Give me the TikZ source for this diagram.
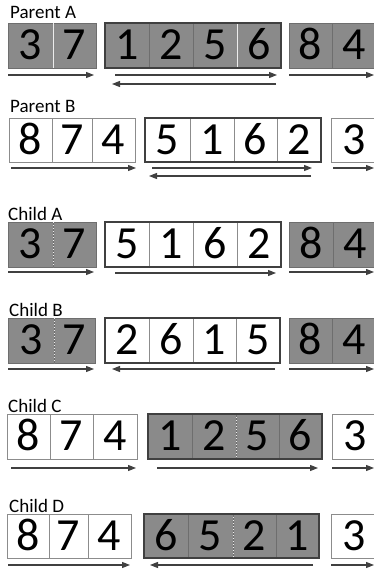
\documentclass[tikz,border=0pt]{standalone}
\usepackage{fontspec}
\setmainfont{Carlito}
\usetikzlibrary{arrows.meta}
\definecolor{cellgray}{HTML}{8A8A8A}
\definecolor{gborder}{HTML}{6E6E6E}
\definecolor{wborder}{HTML}{8C8C8C}
\definecolor{darkline}{HTML}{404040}
\newcommand{\mkcell}[7]{\node[cellbox,#6,minimum width={#3-#2},minimum height={#5-#4},anchor=north west] (#1) at (#2,#4) {#7};}
\tikzset{
  cellbox/.style={inner sep=0pt,outer sep=0pt,text height=28pt,text depth=0pt,font=\fontsize{46}{46}\selectfont,line width=0.8pt},
  gc/.style={fill=cellgray,draw=gborder},
  wc/.style={fill=white,draw=wborder},
  grp/.style={draw=darkline,line width=2pt},
  lbl/.style={anchor=base west,inner sep=0pt,font=\fontsize{19}{20}\selectfont},
  arr/.style={draw=darkline,line width=1.1pt,-{Triangle[length=8pt,width=6pt]}},
  gap/.style={draw=white!85!gray,line width=1pt}
}
\begin{document}
\begin{tikzpicture}[x=1pt,y=-1pt]
\useasboundingbox (0,0) rectangle (374,572);
\clip (0,0) rectangle (374,572);
% ---------------- Parent A
\node[lbl] (la) at (10,19) {Parent A};
\mkcell{pal1}{8}{53}{23}{68}{gc}{3}
\mkcell{pal2}{53}{96}{23}{68}{gc}{7}
\mkcell{pam1}{105}{149}{23}{68}{gc}{1}
\mkcell{pam2}{149}{193}{23}{68}{gc}{2}
\mkcell{pam3}{193}{237}{23}{68}{gc}{5}
\mkcell{pam4}{237}{281}{23}{68}{gc}{6}
\mkcell{par1}{289}{332}{23}{68}{gc}{8}
\mkcell{par2}{332}{376}{23}{68}{gc}{4}
\draw[gap] (pal1.north east) -- (pal1.south east);
\draw[gap] (pam3.north east) -- (pam3.south east);
\draw[grp] (pam1.north west) rectangle (pam4.south east);
\coordinate (a1s) at (8,75);   \coordinate (a1e) at (94,75);
\coordinate (a2s) at (115,75); \coordinate (a2e) at (277,75);
\coordinate (a3s) at (276,84); \coordinate (a3e) at (112,84);
\coordinate (a4s) at (289,75); \coordinate (a4e) at (374,75);
\draw[arr] (a1s) -- (a1e);
\draw[arr] (a2s) -- (a2e);
\draw[arr] (a3s) -- (a3e);
\draw[arr] (a4s) -- (a4e);
% ---------------- Parent B
\node[lbl] (lb) at (10,113) {Parent B};
\mkcell{pbl1}{9}{52}{118}{162}{wc}{8}
\mkcell{pbl2}{52}{92}{118}{162}{wc}{7}
\mkcell{pbl3}{92}{135}{118}{162}{wc}{4}
\mkcell{pbm1}{145}{190}{118}{162}{wc}{5}
\mkcell{pbm2}{190}{234}{118}{162}{wc}{1}
\mkcell{pbm3}{234}{277}{118}{162}{wc}{6}
\mkcell{pbm4}{277}{321}{118}{162}{wc}{2}
\mkcell{pbr1}{331}{378}{118}{162}{wc}{3}
\draw[grp] (pbm1.north west) rectangle (pbm4.south east);
\coordinate (b1s) at (11,168);  \coordinate (b1e) at (136,168);
\coordinate (b2s) at (152,168); \coordinate (b2e) at (312,168);
\coordinate (b3s) at (311,176); \coordinate (b3e) at (149,176);
\coordinate (b4s) at (333,168); \coordinate (b4e) at (374,168);
\draw[arr] (b1s) -- (b1e);
\draw[arr] (b2s) -- (b2e);
\draw[arr] (b3s) -- (b3e);
\draw[arr] (b4s) -- (b4e);
% ---------------- Child A
\node[lbl] (lca) at (8,220) {Child A};
\mkcell{cal1}{8}{53}{222}{267}{gc}{3}
\mkcell{cal2}{53}{96}{222}{267}{gc}{7}
\mkcell{cam1}{105}{149}{222}{267}{wc}{5}
\mkcell{cam2}{149}{193}{222}{267}{wc}{1}
\mkcell{cam3}{193}{237}{222}{267}{wc}{6}
\mkcell{cam4}{237}{281}{222}{267}{wc}{2}
\mkcell{car1}{289}{333}{222}{267}{gc}{8}
\mkcell{car2}{333}{377}{222}{267}{gc}{4}
\draw[gap,dotted] (cal1.north east) -- (cal1.south east);
\draw[grp] (cam1.north west) rectangle (cam4.south east);
\coordinate (c1s) at (8,272);   \coordinate (c1e) at (94,272);
\coordinate (c2s) at (115,273); \coordinate (c2e) at (276,273);
\coordinate (c4s) at (289,272); \coordinate (c4e) at (374,272);
\draw[arr] (c1s) -- (c1e);
\draw[arr] (c2s) -- (c2e);
\draw[arr] (c4s) -- (c4e);
% ---------------- Child B
\node[lbl] (lcb) at (9,316) {Child B};
\mkcell{cbl1}{8}{54}{318}{363}{gc}{3}
\mkcell{cbl2}{54}{95}{318}{363}{gc}{7}
\mkcell{cbm1}{105}{149}{318}{363}{wc}{2}
\mkcell{cbm2}{149}{193}{318}{363}{wc}{6}
\mkcell{cbm3}{193}{236}{318}{363}{wc}{1}
\mkcell{cbm4}{236}{280}{318}{363}{wc}{5}
\mkcell{cbr1}{289}{332}{318}{363}{gc}{8}
\mkcell{cbr2}{332}{376}{318}{363}{gc}{4}
\draw[gap,dotted] (cbl1.north east) -- (cbl1.south east);
\draw[grp] (cbm1.north west) rectangle (cbm4.south east);
\coordinate (d1s) at (8,369);   \coordinate (d1e) at (94,369);
\coordinate (d2s) at (275,369); \coordinate (d2e) at (112,369);
\coordinate (d4s) at (289,369); \coordinate (d4e) at (374,369);
\draw[arr] (d1s) -- (d1e);
\draw[arr] (d2s) -- (d2e);
\draw[arr] (d4s) -- (d4e);
% ---------------- Child C
\node[lbl] (lcc) at (8,412) {Child C};
\mkcell{ccl1}{7}{50}{414}{459}{wc}{8}
\mkcell{ccl2}{50}{93}{414}{459}{wc}{7}
\mkcell{ccl3}{93}{137}{414}{459}{wc}{4}
\mkcell{ccm1}{148}{192}{414}{459}{gc}{1}
\mkcell{ccm2}{192}{236}{414}{459}{gc}{2}
\mkcell{ccm3}{236}{279}{414}{459}{gc}{5}
\mkcell{ccm4}{279}{322}{414}{459}{gc}{6}
\mkcell{ccr1}{332}{379}{414}{459}{wc}{3}
\draw[gap,dotted] (ccm2.north east) -- (ccm2.south east);
\draw[grp] (ccm1.north west) rectangle (ccm4.south east);
\coordinate (e1s) at (11,468);  \coordinate (e1e) at (136,468);
\coordinate (e2s) at (157,468); \coordinate (e2e) at (318,468);
\coordinate (e4s) at (332,468); \coordinate (e4e) at (374,468);
\draw[arr] (e1s) -- (e1e);
\draw[arr] (e2s) -- (e2e);
\draw[arr] (e4s) -- (e4e);
% ---------------- Child D
\node[lbl] (lcd) at (9,512) {Child D};
\mkcell{cdl1}{7}{49}{514}{558}{wc}{8}
\mkcell{cdl2}{49}{88}{514}{558}{wc}{7}
\mkcell{cdl3}{88}{131}{514}{558}{wc}{4}
\mkcell{cdm1}{144}{188}{514}{558}{gc}{6}
\mkcell{cdm2}{188}{233}{514}{558}{gc}{5}
\mkcell{cdm3}{233}{276}{514}{558}{gc}{2}
\mkcell{cdm4}{276}{319}{514}{558}{gc}{1}
\mkcell{cdr1}{331}{378}{514}{558}{wc}{3}
\draw[gap,dotted] (cdm2.north east) -- (cdm2.south east);
\draw[grp] (cdm1.north west) rectangle (cdm4.south east);
\coordinate (f1s) at (8,565);   \coordinate (f1e) at (130,565);
\coordinate (f2s) at (313,565); \coordinate (f2e) at (150,565);
\coordinate (f4s) at (331,565); \coordinate (f4e) at (374,565);
\draw[arr] (f1s) -- (f1e);
\draw[arr] (f2s) -- (f2e);
\draw[arr] (f4s) -- (f4e);
\end{tikzpicture}
\end{document}
